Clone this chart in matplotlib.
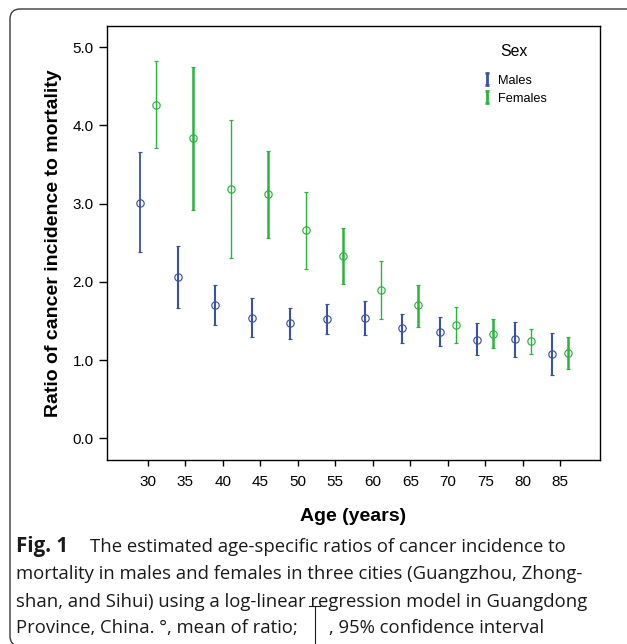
import numpy as np
import matplotlib
matplotlib.use("Agg")
import matplotlib.pyplot as plt
from matplotlib.path import Path
from matplotlib.lines import Line2D
from matplotlib.patches import FancyBboxPatch

# ---------------- data ----------------
ages = [30, 35, 40, 45, 50, 55, 60, 65, 70, 75, 80, 85]
male_mean = [3.01, 2.06, 1.71, 1.54, 1.47, 1.53, 1.54, 1.41, 1.36, 1.26, 1.27, 1.08]
male_lower = [2.38, 1.66, 1.45, 1.29, 1.27, 1.34, 1.32, 1.22, 1.18, 1.06, 1.04, 0.81]
male_upper = [3.66, 2.46, 1.96, 1.79, 1.67, 1.72, 1.75, 1.59, 1.55, 1.47, 1.49, 1.35]
female_mean = [4.26, 3.84, 3.19, 3.12, 2.66, 2.33, 1.90, 1.70, 1.45, 1.33, 1.24, 1.09]
female_lower = [3.71, 2.92, 2.31, 2.56, 2.17, 1.97, 1.53, 1.42, 1.22, 1.15, 1.08, 0.89]
female_upper = [4.82, 4.75, 4.07, 3.68, 3.15, 2.69, 2.27, 1.96, 1.68, 1.52, 1.40, 1.29]
series_names = ["Males", "Females"]
yticks = [0.0, 1.0, 2.0, 3.0, 4.0, 5.0]

caption_bold = "Fig. 1"
caption_lines = [
    "The estimated age-specific ratios of cancer incidence to",
    "mortality in males and females in three cities (Guangzhou, Zhong-",
    "shan, and Sihui) using a log-linear regression model in Guangdong",
    "Province, China. \u00b0, mean of ratio;",
]
caption_tail = ", 95% confidence interval"

# ---------------- style ----------------
plt.rcParams["font.family"] = ["Liberation Sans", "DejaVu Sans"]
c_male = "#3a52a6"
c_female = "#2bb33b"
W, H = 627, 644

fig = plt.figure(figsize=(W / 100, H / 100), dpi=100)
ax = fig.add_axes([106.7 / W, 1 - 459.5 / H, 493.6 / W, 433.5 / H])

a = np.array(ages, dtype=float)
for k, (mean, lo, up, col, off) in enumerate([
    (male_mean, male_lower, male_upper, c_male, -1.05),
    (female_mean, female_lower, female_upper, c_female, 1.05),
]):
    m = np.array(mean)
    err = [m - np.array(lo), np.array(up) - m]
    cont = ax.errorbar(a + off, m, yerr=err, fmt="o", mfc="none", mec=col,
                       ms=5.3, mew=0.85, ecolor=col, elinewidth=1.3,
                       capsize=1.6, capthick=1.3, zorder=3)
    if k == 1:
        # rendering in the original alternates thin / heavy bars
        lws = [1.0 if i % 2 == 0 else 1.8 for i in range(len(ages))]
        cont[2][0].set_linewidths(lws)
    else:
        cont[2][0].set_linewidths([1.3] + [1.5] * (len(ages) - 1))

ax.set_xlim(24.5, 90.35)
ax.set_ylim(-0.271, 5.272)
ax.set_xticks(ages)
ax.set_xticklabels([str(v) for v in ages])
ax.set_yticks(yticks)
ax.set_yticklabels([f"{v:.1f}" for v in yticks])
for s in ax.spines.values():
    s.set_linewidth(1.0)
    s.set_color("black")
ax.tick_params(axis="x", direction="out", length=4.5, width=1.0, pad=6.8,
               labelsize=11)
ax.tick_params(axis="y", direction="out", length=5.5, width=1.0, pad=4.0,
               labelsize=11)

ax.set_ylabel("Ratio of cancer incidence to mortality", fontsize=14,
              fontweight="bold")
ax.yaxis.set_label_coords(-0.09, 0.5)
ax.set_xlabel("Age (years)", fontsize=14, fontweight="bold")
ax.xaxis.set_label_coords(0.5, -0.111)

# legend handles: I-beam glyphs
ibeam = Path([(0, -1), (0, 1), (-0.4, 1), (0.4, 1), (-0.4, -1), (0.4, -1)],
             [Path.MOVETO, Path.LINETO, Path.MOVETO, Path.LINETO,
              Path.MOVETO, Path.LINETO])
handles = [Line2D([], [], color=c, marker=ibeam, linestyle="None",
                  markersize=8.5, markeredgewidth=2.0)
           for c in (c_male, c_female)]
leg = ax.legend(handles, series_names, loc="upper left",
                bbox_to_anchor=(0.760, 0.888), frameon=False, fontsize=9.2,
                borderpad=0, handlelength=0.85, handletextpad=0.45,
                labelspacing=0.5, borderaxespad=0)
ax.text(0.825, 0.942, "Sex", transform=ax.transAxes, ha="center",
        va="center", fontsize=11.4)

# rounded frame
frame = FancyBboxPatch((0.10, -0.02), 6.9, 6.35 + 0.02,
                       boxstyle="round,pad=0,rounding_size=0.1",
                       transform=fig.dpi_scale_trans, fill=False,
                       ec="#3a3a3a", lw=1.0)
fig.add_artist(frame)

# caption
cap_font = ["Open Sans", "DejaVu Sans"]
cap_size = 13.3
cap_col = "#1a1a1a"
baselines = [551.7, 579.3, 606.7, 633.3]
x0 = 16 / W
fig.text(x0, 1 - baselines[0] / H, caption_bold, fontsize=14.8,
         fontweight="bold", family=cap_font, va="baseline", color=cap_col)
fig.text(90 / W, 1 - baselines[0] / H, caption_lines[0],
         fontsize=cap_size, family=cap_font, va="baseline", color=cap_col)
texts = []
for i in range(1, 4):
    texts.append(fig.text(x0, 1 - baselines[i] / H, caption_lines[i],
                          fontsize=cap_size, family=cap_font, va="baseline",
                          color=cap_col))
fig.canvas.draw()
bb4 = texts[-1].get_window_extent(fig.canvas.get_renderer())
gx = bb4.x1 + 17
fig.add_artist(Line2D([gx / W, gx / W], [1 - 605.7 / H, 0.0],
                      transform=fig.transFigure, color=cap_col, lw=0.8))
fig.add_artist(Line2D([(gx - 5.5) / W, (gx + 5.5) / W],
                      [1 - 605.7 / H, 1 - 605.7 / H],
                      transform=fig.transFigure, color=cap_col, lw=0.8))
fig.text((bb4.x1 + 31) / W, 1 - baselines[3] / H, caption_tail,
         fontsize=cap_size, family=cap_font, va="baseline", color=cap_col)

fig.savefig("out.png", dpi=100)
